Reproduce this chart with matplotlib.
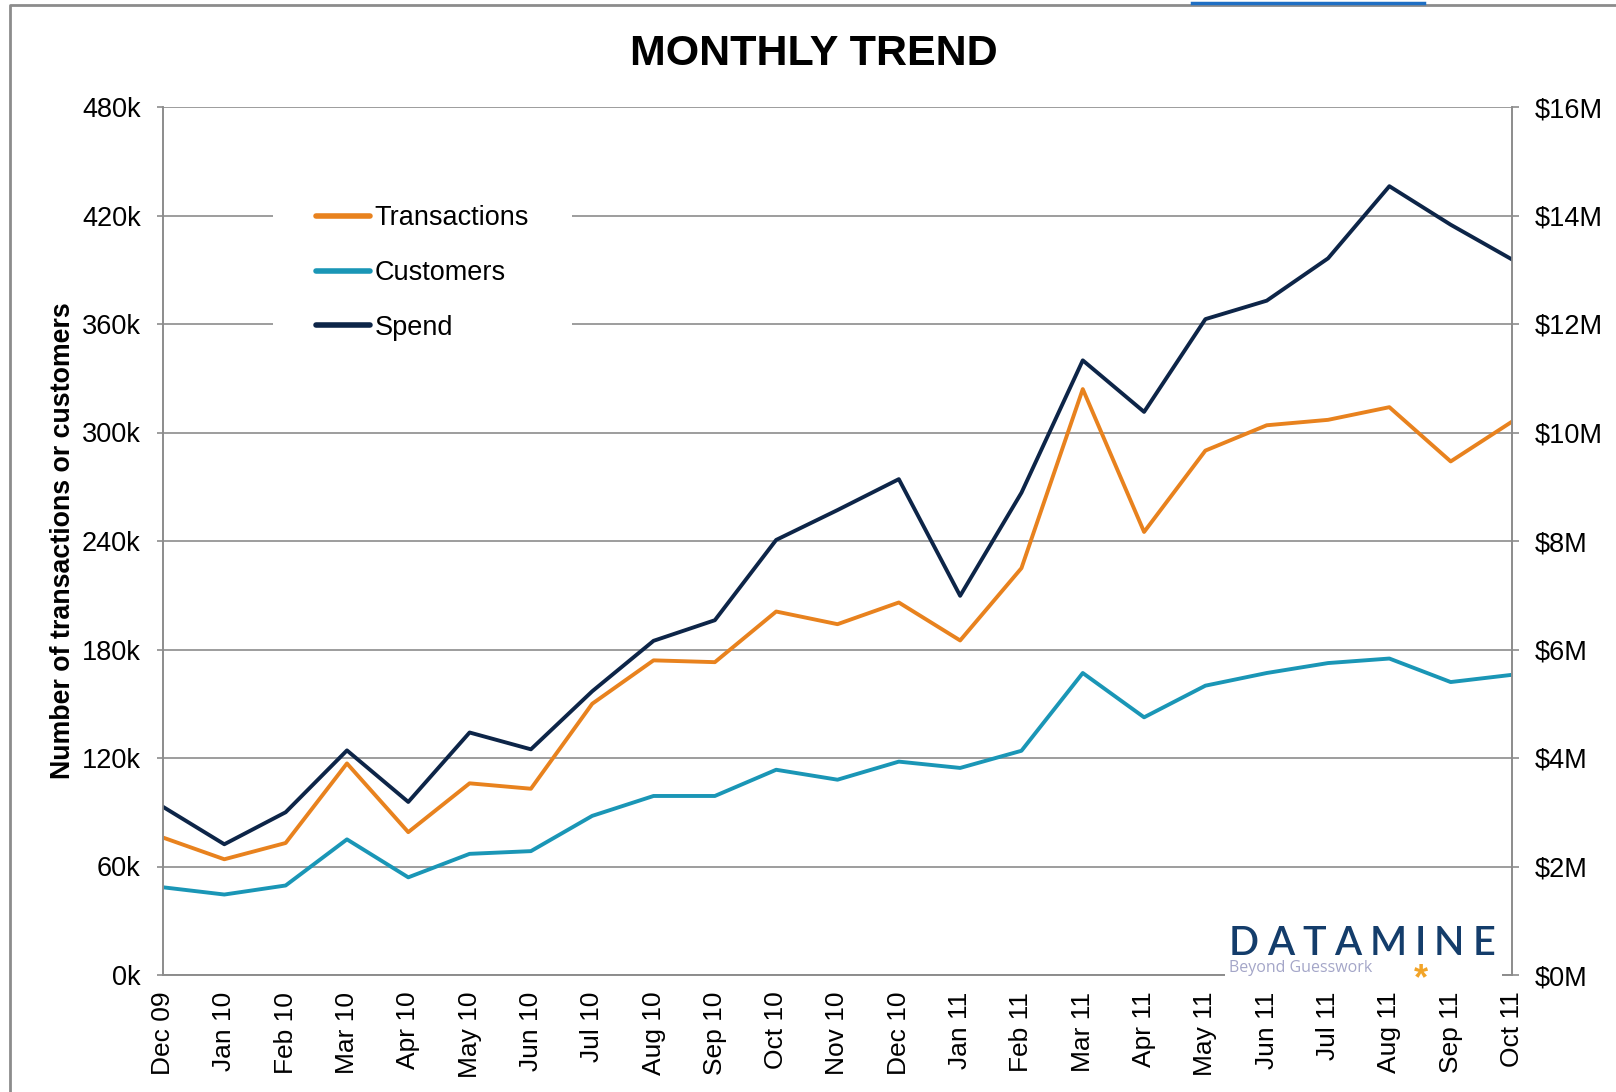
import matplotlib
matplotlib.use("Agg")
import matplotlib.pyplot as plt
from matplotlib.patches import Rectangle
from matplotlib.lines import Line2D

months = ["Dec 09", "Jan 10", "Feb 10", "Mar 10", "Apr 10", "May 10", "Jun 10",
          "Jul 10", "Aug 10", "Sep 10", "Oct 10", "Nov 10", "Dec 10", "Jan 11",
          "Feb 11", "Mar 11", "Apr 11", "May 11", "Jun 11", "Jul 11", "Aug 11",
          "Sep 11", "Oct 11"]
# thousands
transactions = [76, 64, 73, 117, 79, 106, 103, 150, 174, 173, 201, 194, 206,
                185, 225, 324, 245, 290, 304, 307, 314, 284, 306]
customers = [48.5, 44.5, 49.5, 75, 54, 67, 68.5, 88, 99, 99, 113.5, 108, 118,
             114.5, 124, 167, 142.5, 160, 167, 172.5, 175, 162, 166]
# $ millions
spend = [3.10, 2.41, 3.00, 4.14, 3.19, 4.47, 4.16, 5.23, 6.16, 6.54, 8.02, 8.57,
         9.14, 6.99, 8.89, 11.33, 10.38, 12.09, 12.43, 13.21, 14.54, 13.83, 13.19]

left_ticks = [0, 60, 120, 180, 240, 300, 360, 420, 480]
right_ticks = [0, 2, 4, 6, 8, 10, 12, 14, 16]

ORANGE = "#E8821E"
TEAL = "#1A96B6"
NAVY = "#0D2548"
GREY = "#8C8C8C"

plt.rcParams['font.family'] = ['Liberation Sans', 'DejaVu Sans']

W, H = 1616, 1092
fig = plt.figure(figsize=(W / 100, H / 100), dpi=100)
ax = fig.add_axes([163 / W, 1 - 975 / H, 1349 / W, 868 / H])
ax2 = ax.twinx()

x = list(range(len(months)))
ax.plot(x, transactions, color=ORANGE, lw=2.8, label="Transactions")
ax.plot(x, customers, color=TEAL, lw=2.8, label="Customers")
ax2.plot(x, spend, color=NAVY, lw=2.8, label="Spend")

ax.set_xlim(0, len(months) - 1)
ax.set_ylim(0, 480)
ax2.set_ylim(0, 16)
ax.set_yticks(left_ticks)
ax.set_yticklabels([f"{v}k" for v in left_ticks])
ax2.set_yticks(right_ticks)
ax2.set_yticklabels([f"${v}M" for v in right_ticks])
ax.set_xticks(x)
ax.set_xticklabels(months, rotation=90)

ax.grid(axis="y", color=GREY, lw=1.2)
ax.set_axisbelow(True)
for a in (ax, ax2):
    a.spines["top"].set_visible(False)
    for s in ("left", "right", "bottom"):
        a.spines[s].set_color(GREY)
        a.spines[s].set_linewidth(1.2)
ax.tick_params(axis="y", length=4, width=1.2, color=GREY, pad=12, labelsize=19.5)
ax.tick_params(axis="x", length=0, pad=12, labelsize=19)
ax2.tick_params(axis="y", length=5, width=1.2, color=GREY, pad=11, labelsize=19.5)

ax.set_ylabel("Number of transactions or customers", fontsize=19.3,
              fontweight="bold", labelpad=4)

handles = ax.get_lines() + ax2.get_lines()
leg = ax.legend(handles, [h.get_label() for h in handles], loc="upper left",
                bbox_to_anchor=(0.0815, 0.937), borderaxespad=0, fontsize=19.5,
                frameon=True, fancybox=False, edgecolor="none", facecolor="white",
                framealpha=1, borderpad=1.6, labelspacing=1.07, handlelength=2.0,
                handletextpad=0.15)
for h in leg.legend_handles:
    h.set_linewidth(4)
    h.set_solid_capstyle("round")

fig.text(814 / W, 1 - 65 / H, "MONTHLY TREND", ha="center", va="baseline",
         fontsize=31, fontweight="bold")

# logo box
fig.add_artist(Rectangle((1225 / W, 1 - 982 / H), 277 / W, 95 / H,
                         transform=fig.transFigure, facecolor="white",
                         edgecolor="none", zorder=5))
renderer = fig.canvas.get_renderer()
cx = 1229
for ch in "DATAMINE":
    t = fig.text(cx / W, 1 - 955 / H, ch, fontsize=28.5, color="#143D6B",
                 family=["Lato", "DejaVu Sans"], fontweight="semibold",
                 ha="left", va="baseline", zorder=6)
    cx += t.get_window_extent(renderer).width + 8
fig.text(1229 / W, 1 - 972 / H, "Beyond Guesswork", fontsize=11.5, color="#A4A6C8",
         family=["Open Sans", "DejaVu Sans"], ha="left", va="baseline", zorder=6)
fig.text(1421 / W, 1 - 989 / H, "*", fontsize=26, color="#F2A428", fontweight="bold",
         ha="center", va="baseline", zorder=6)

# surrounding frame from the source page
fig.add_artist(Line2D([10 / W, 10 / W, 1], [0, 1 - 5 / H, 1 - 5 / H],
                      transform=fig.transFigure, color=GREY, lw=2))
fig.add_artist(Line2D([1192 / W, 1424 / W], [1 - 3 / H, 1 - 3 / H],
                      transform=fig.transFigure, color="#1F6FC4", lw=2.5))

fig.savefig("out.png", dpi=100)
